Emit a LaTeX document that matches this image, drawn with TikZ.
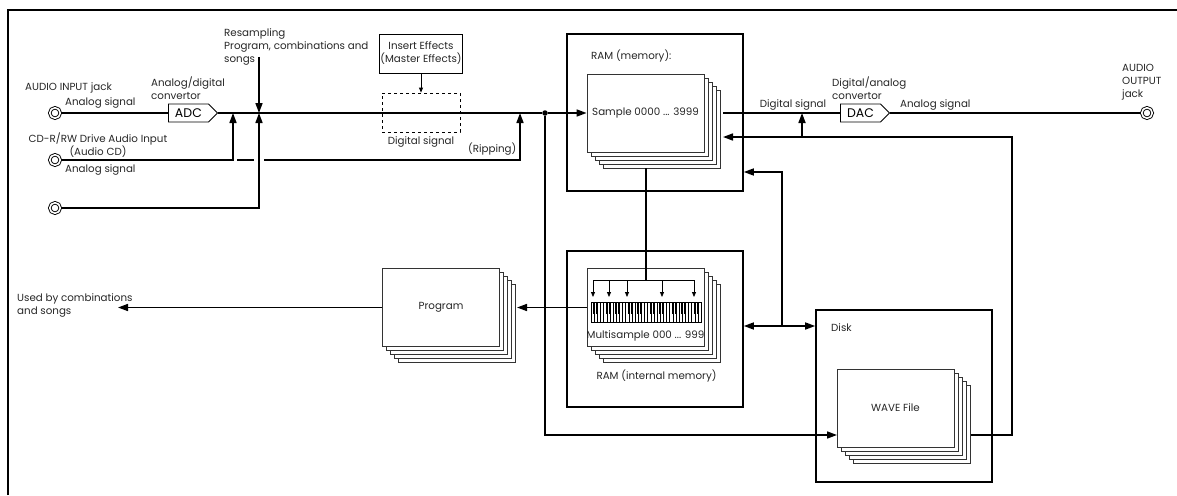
\documentclass[tikz,border=0pt]{standalone}
\usepackage{fontspec}
\setmainfont{Poppins}
\usetikzlibrary{arrows.meta,shadows,shapes.symbols}
\begin{document}
\begin{tikzpicture}[
	x=1pt, y=-1pt,
	font=\fontsize{10.3}{13}\selectfont,
	txt/.style={ text=black!85, inner sep=0pt, align=left },
	sig/.style={ line width=1.6pt },
	arr/.style={ sig, -{Triangle[length=10pt,width=7pt]} },
	tarr/.style={ line width=0.8pt, -{Triangle[length=5pt,width=4pt]} },
	jack/.style={ circle, draw, line width=0.9pt, double, double distance=1.6pt, minimum size=10.5pt, inner sep=0pt },
	conv/.style={ signal, signal to=east, signal pointer angle=90, draw, line width=0.9pt, minimum width=49pt, minimum height=18pt, inner sep=0pt, font=\fontsize{12.5}{12.5}\selectfont },
	box/.style={ draw, line width=1.6pt },
	tbox/.style={ draw, line width=0.9pt, align=center, text=black!85 },
	sheets/.style={ draw=black!80, fill=white, line width=0.8pt, minimum width=117pt, minimum height=78pt, text=black!85,
		copy shadow={shadow xshift=16pt, shadow yshift=-16pt},
		copy shadow={shadow xshift=12pt, shadow yshift=-12pt},
		copy shadow={shadow xshift=8pt, shadow yshift=-8pt},
		copy shadow={shadow xshift=4pt, shadow yshift=-4pt} }
]
\useasboundingbox (0,0) rectangle (1177,495);
\draw[line width=1.6pt] (8,495) -- (8,10) -- (1177,10);

\node at (655,112.5) (ram) [box, minimum width=176pt, minimum height=157pt] {};
\node at (655,329) (ramint) [box, minimum width=176pt, minimum height=156pt] {};
\node at (904,396) (disk) [box, minimum width=176pt, minimum height=172pt] {};

\node at (55,113) (in1) [jack] {};
\node at (55,160) (in2) [jack] {};
\node at (55,208) (in3) [jack] {};
\node at (1147,113) (out) [jack] {};

\node at (168,113) (adc) [conv, anchor=west] {ADC\hspace{6pt}};
\node at (840,113) (dac) [conv, anchor=west] {DAC\hspace{6pt}};

\node at (421,53.5) (fx) [tbox, minimum width=78pt, minimum height=39pt, inner sep=1pt] {Insert Effects\\(Master Effects)};
\node at (421,112.5) (dig) [draw, dashed, line width=0.8pt, minimum width=78pt, minimum height=39pt] {};
\node at (545,113) (split) [circle, fill, inner sep=0pt, minimum size=5.5pt] {};

\node at (645.5,113) (sample) [sheets] {Sample 0000 ... 3999};
\node at (645.5,307.5) (multi) [sheets] {};
\node at (441,307.5) (prog) [sheets] {Program};
\node at (895.5,408) (wave) [sheets] {WAVE File};

\node at (25,88) (injack) [txt, anchor=west] {AUDIO INPUT jack};
\node at (65,103) (an1) [txt, anchor=west] {Analog signal};
\node at (151,88.5) (adcl) [txt, anchor=west] {Analog/digital\\convertor};
\node at (98,145) (cd) [txt, align=center] {CD-R/RW Drive Audio Input\\(Audio CD)};
\node at (65,170) (an2) [txt, anchor=west] {Analog signal};
\node at (224,47) (resamp) [txt, anchor=west] {Resampling\\Program, combinations and\\songs};
\node at (421,142) (digl) [txt] {Digital signal};
\node at (468,149) (ripl) [txt, anchor=west] {(Ripping)};
\node at (591,56) (raml) [txt, anchor=west] {RAM (memory):};
\node at (793,105) (digr) [txt] {Digital signal};
\node at (832,88.5) (dacl) [txt, anchor=west] {Digital/analog\\convertor};
\node at (900,105) (an3) [txt, anchor=west] {Analog signal};
\node at (1122,82) (outjack) [txt, anchor=west] {AUDIO\\OUTPUT\\jack};
\node at (645.5,336) (multil) [txt] {Multisample 000 ... 999};
\node at (656.5,376) (ramintl) [txt] {RAM (internal memory)};
\node at (17,305) (used) [txt, anchor=west] {Used by combinations\\and songs};
\node at (831,328) (diskl) [txt, anchor=west] {Disk};

\coordinate (a2) at (233,113);
\coordinate (a3) at (259,113);
\coordinate (a4) at (520,113);
\coordinate (rs) at (259,57);
\coordinate (rp0) at (237,160);
\coordinate (rp1) at (254,160);
\coordinate (rp2) at (264,160);
\coordinate (sampleout) at (723,113);
\coordinate (samplein) at (723,137);
\coordinate (rtop) at (1012,137);
\coordinate (waveout) at (971,435);
\coordinate (wavein) at (837,435);
\coordinate (tap) at (802,137);
\coordinate (tapend) at (802,113);
\coordinate (lk) at (782,326);
\coordinate (lktop) at (782,172);
\coordinate (sb) at (646,168);
\coordinate (bar) at (646,280);
\coordinate (progin) at (517,307.5);
\coordinate (usedin) at (118,307.5);

\draw[sig] (in1) -- (adc.west);
\draw[sig] (adc.east) -- (split);
\draw[arr] (split) -- (sample.west);
\draw[arr] (in2) -| (a2);
\draw[sig] (rp0) -- (rp1);
\draw[arr] (rp2) -| (a4);
\draw[arr] (rs) -- (a3);
\draw[arr] (in3) -| (a3);
\draw[tarr] (fx) -- (dig);
\draw[sig] (sampleout) -- (dac.west);
\draw[sig] (dac.east) -- (out);
\draw[arr] (waveout) -| (rtop) -- (samplein);
\draw[arr] (tap) -- (tapend);
\draw[arr] (lk) -- (lktop) -- (ram.east |- lktop);
\draw[sig, {Triangle[length=10pt,width=7pt]}-{Triangle[length=10pt,width=7pt]}] (ramint.east |- lk) -- (disk.west |- lk);
\draw[arr] (split) |- (wavein);
\draw[arr] (multi.west) -- (progin);
\draw[arr] (prog.west) -- (usedin);

\draw[sig] (sb) -- (bar);
\draw[line width=0.8pt] (593,280) -- (694,280);
\foreach \k in {593,609,627,662,694}
	\draw[tarr] (\k,280) -- (\k,297);

\draw[line width=0.6pt] (591,302) rectangle (701,322);
\foreach \i in {1,...,34}
	\draw[line width=0.3pt] (591+\i*3.143,302) -- ++(0,20);
\foreach \o in {0,...,4}
	\foreach \k in {1,2,4,5,6}
		\fill (591+\o*22+\k*3.143-0.9,302) rectangle ++(1.8,12);

\end{tikzpicture}
\end{document}
